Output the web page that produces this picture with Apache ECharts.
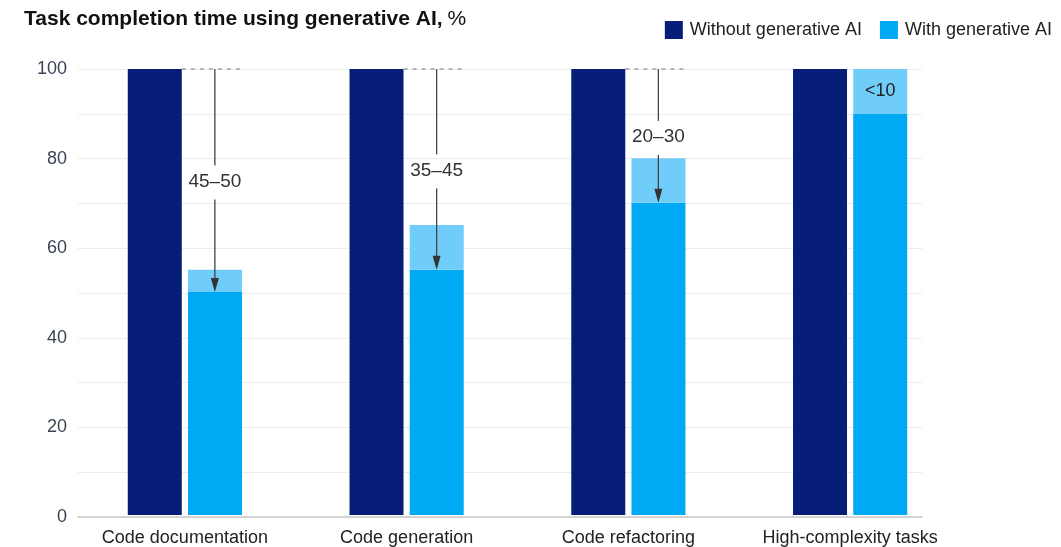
<!DOCTYPE html>
<html>
<head>
<meta charset="utf-8">
<script src="https://cdn.jsdelivr.net/npm/echarts@6/dist/echarts.min.js"></script>
<style>
html,body{margin:0;padding:0;background:#fff;}
#chart{width:1061px;height:547px;}
</style>
</head>
<body>
<div id="chart"></div>
<script>
var categories = ['Code documentation', 'Code generation', 'Code refactoring', 'High-complexity tasks'];
var withoutAI = [100, 100, 100, 100];
var withAIBase = [50, 55, 70, 90];
var withAIRange = [5, 10, 10, 10];
var reductionLabels = ['45–50', '35–45', '20–30', '<10'];
var arrowEnds = [50, 55, 70, null];
var yTicks = [0, 20, 40, 60, 80, 100];

var FONT = '"Liberation Sans", Arial, sans-serif';
var DARK = '#061E78';
var LIGHT = '#00A9F4';
var LIGHTER = '#70CCF8';

var chart = echarts.init(document.getElementById('chart'));

var arrowData = [];
for (var i = 0; i < categories.length; i++) {
  if (arrowEnds[i] != null) arrowData.push([i, 100, arrowEnds[i], reductionLabels[i]]);
}

var rangeData = withAIRange.map(function (v, i) {
  if (arrowEnds[i] == null) {
    return { value: v, label: { show: true, position: 'inside', formatter: reductionLabels[i], color: '#222', fontSize: 18, fontFamily: FONT } };
  }
  return v;
});

var option = {
  animation: false,
  title: {
    left: 19, top: 4,
    text: '{b|Task completion time using generative AI,} {r|%}',
    textStyle: {
      rich: {
        b: { fontFamily: FONT, fontSize: 21, fontWeight: 'bold', color: '#111' },
        r: { fontFamily: FONT, fontSize: 21, fontWeight: 'normal', color: '#111' }
      }
    }
  },
  legend: {
    right: 4, top: 16,
    itemWidth: 18, itemHeight: 18, itemGap: 18,
    icon: 'rect',
    data: ['Without generative AI', 'With generative AI'],
    textStyle: { fontFamily: FONT, fontSize: 18, color: '#222', padding: [0, 0, 0, 2] }
  },
  grid: [
    { left: 74, right: 100, top: 69, bottom: 30 },
    { left: 78, right: 139, top: 69, bottom: 30 }
  ],
  xAxis: [
    {
      type: 'category', gridIndex: 0, data: categories,
      axisLine: { show: false }, axisTick: { show: false },
      axisLabel: { margin: 14, fontFamily: FONT, fontSize: 18, color: '#222', interval: 0 }
    },
    {
      type: 'value', gridIndex: 1, min: 0, max: 1, show: true,
      axisLine: { show: true, onZero: false, lineStyle: { color: '#c8c8c8', width: 1.5 } },
      axisTick: { show: false }, axisLabel: { show: false }, splitLine: { show: false }
    }
  ],
  yAxis: [
    { type: 'value', gridIndex: 0, min: 0, max: 100, interval: 10, show: false },
    {
      type: 'value', gridIndex: 1, min: 0, max: 100, interval: 10,
      axisLine: { show: false }, axisTick: { show: false },
      axisLabel: {
        margin: 11, fontFamily: FONT, fontSize: 18, color: '#3a4556',
        formatter: function (v) { return yTicks.indexOf(v) >= 0 ? String(v) : ''; }
      },
      splitLine: { show: true, lineStyle: { color: '#ececec', width: 1 } }
    }
  ],
  series: [
    {
      name: 'Without generative AI', type: 'bar', xAxisIndex: 0, yAxisIndex: 0,
      data: withoutAI, barWidth: 54, barGap: '11.5%',
      itemStyle: { color: DARK }, z: 3
    },
    {
      name: 'With generative AI', type: 'bar', xAxisIndex: 0, yAxisIndex: 0, stack: 'with',
      data: withAIBase, barWidth: 54,
      itemStyle: { color: LIGHT }, z: 3
    },
    {
      name: 'Range', type: 'bar', xAxisIndex: 0, yAxisIndex: 0, stack: 'with',
      data: rangeData, barWidth: 54,
      itemStyle: { color: LIGHTER }, z: 3
    },
    {
      name: 'Arrows', type: 'custom', xAxisIndex: 0, yAxisIndex: 0, z: 5,
      data: arrowData,
      renderItem: function (params, api) {
        var cat = api.value(0);
        var top = api.coord([cat, api.value(1)]);
        var bot = api.coord([cat, api.value(2)]);
        var x = top[0] + 30;
        var mid = (top[1] + bot[1]) / 2 + 1;
        var headH = 14, headW = 4;
        return {
          type: 'group',
          children: [
            { type: 'line', shape: { x1: top[0] - 3, y1: top[1], x2: top[0] + 57, y2: top[1] },
              style: { stroke: '#777', lineWidth: 1.2, lineDash: [4, 5] } },
            { type: 'line', shape: { x1: x, y1: top[1], x2: x, y2: mid - 16 },
              style: { stroke: '#444', lineWidth: 1.3 } },
            { type: 'line', shape: { x1: x, y1: mid + 18, x2: x, y2: bot[1] - headH + 1 },
              style: { stroke: '#444', lineWidth: 1.3 } },
            { type: 'polygon', shape: { points: [[x - headW, bot[1] - headH], [x + headW, bot[1] - headH], [x, bot[1]]] },
              style: { fill: '#333' } },
            { type: 'text', x: x, y: mid,
              style: { text: api.value(3), fill: '#333', font: '19px ' + FONT, textAlign: 'center', textVerticalAlign: 'middle' } }
          ]
        };
      }
    }
  ]
};
chart.setOption(option);
</script>
</body>
</html>
